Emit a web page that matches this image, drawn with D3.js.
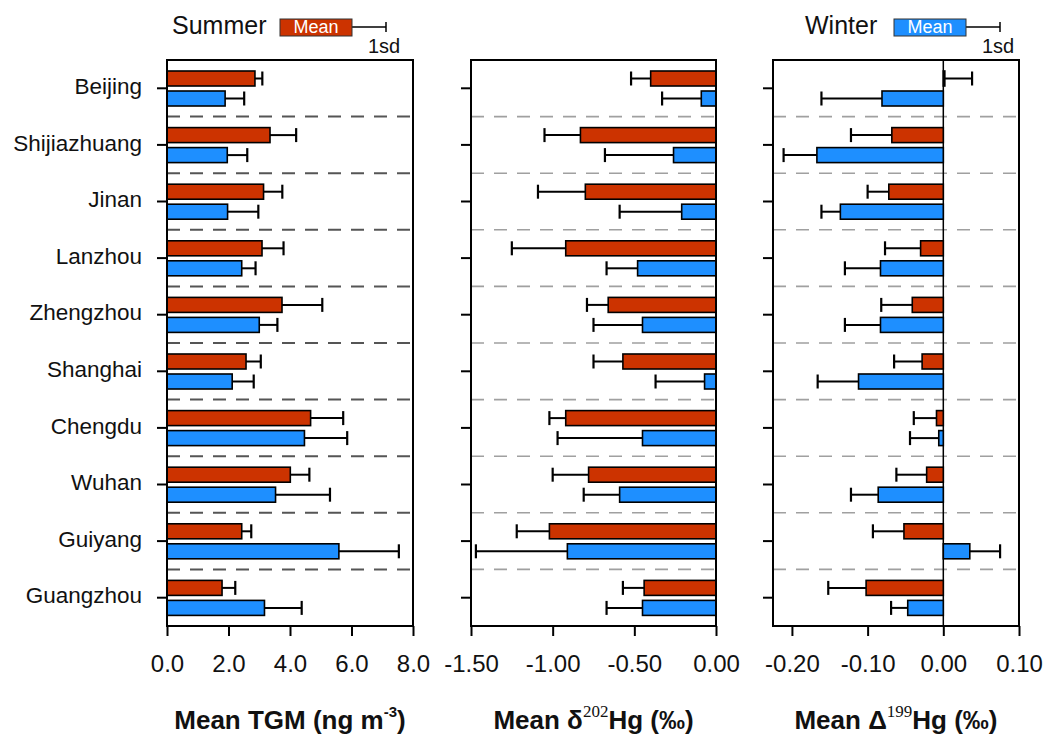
<!doctype html>
<html>
  <head>
    <meta charset="utf-8">
    <title>TGM and Hg isotopes by city</title>
    <script src="https://cdnjs.cloudflare.com/ajax/libs/d3/7.8.5/d3.min.js"></script>
    <style>
      body { margin: 0; background: #fff; }
      svg text { font-family: "Liberation Sans", Arial, sans-serif; }
    </style>
  </head>
  <body>
    <div id="chart"></div>
    <script>
      // categories
      const cities = ["Beijing", "Shijiazhuang", "Jinan", "Lanzhou", "Zhengzhou",
                      "Shanghai", "Chengdu", "Wuhan", "Guiyang", "Guangzhou"];
      const seasons = ["Summer", "Winter"];

      // Mean TGM (ng m-3) and 1sd
      const tgmSummer   = [2.86, 3.35, 3.14, 3.09, 3.74, 2.57, 4.67, 4.01, 2.43, 1.79];
      const tgmSummerSd = [0.24, 0.85, 0.61, 0.70, 1.31, 0.48, 1.06, 0.62, 0.31, 0.43];
      const tgmWinter   = [1.89, 1.96, 1.97, 2.43, 3.00, 2.12, 4.47, 3.53, 5.59, 3.17];
      const tgmWinterSd = [0.62, 0.65, 1.00, 0.45, 0.59, 0.70, 1.39, 1.77, 1.95, 1.21];

      // Mean d202Hg (permil) and 1sd
      const d202Summer   = [-0.40, -0.83, -0.80, -0.92, -0.66, -0.57, -0.92, -0.78, -1.02, -0.44];
      const d202SummerSd = [0.12, 0.22, 0.29, 0.33, 0.13, 0.18, 0.10, 0.22, 0.20, 0.13];
      const d202Winter   = [-0.09, -0.26, -0.21, -0.48, -0.45, -0.07, -0.45, -0.59, -0.91, -0.45];
      const d202WinterSd = [0.24, 0.42, 0.38, 0.19, 0.30, 0.30, 0.52, 0.22, 0.56, 0.22];

      // Mean D199Hg (permil) and 1sd
      const D199Summer   = [0.002, -0.068, -0.072, -0.030, -0.041, -0.028, -0.009, -0.022, -0.052, -0.102];
      const D199SummerSd = [0.036, 0.054, 0.028, 0.047, 0.041, 0.037, 0.030, 0.040, 0.041, 0.050];
      const D199Winter   = [-0.081, -0.167, -0.136, -0.083, -0.083, -0.112, -0.006, -0.086, 0.035, -0.047];
      const D199WinterSd = [0.080, 0.044, 0.025, 0.047, 0.047, 0.054, 0.038, 0.036, 0.040, 0.022];

      // tick labels
      const tgmTicks  = [0, 2, 4, 6, 8];
      const d202Ticks = [-1.5, -1.0, -0.5, 0];
      const D199Ticks = [-0.2, -0.1, 0, 0.1];

      const colors = { Summer: "#cc3300", Winter: "#1e8fff" };

      const width = 1049, height = 740;
      const plotTop = 60, plotBottom = 626;

      const svg = d3.select("#chart").append("svg")
        .attr("width", width)
        .attr("height", height);

      const y = d3.scaleBand().domain(cities).range([plotTop, plotBottom]);
      const ySub = d3.scaleBand().domain(seasons).range([11, 46]).paddingInner(0.25);

      const panels = [
        { left: 167, right: 413, domain: [0, 8], ticks: tgmTicks, fmt: d => d.toFixed(1),
          summer: tgmSummer, summerSd: tgmSummerSd, winter: tgmWinter, winterSd: tgmWinterSd,
          labels: true, dash: "#555", dashW: 2, zeroLine: false,
          title: ["Mean TGM (ng m", "-3", ")"] },
        { left: 471, right: 716, domain: [-1.5, 0], ticks: d202Ticks, fmt: d => d.toFixed(2),
          summer: d202Summer, summerSd: d202SummerSd, winter: d202Winter, winterSd: d202WinterSd,
          labels: false, dash: "#a0a0a0", dashW: 1.6, zeroLine: false,
          title: ["Mean δ", "202", "Hg (‰)"] },
        { left: 773, right: 1019, domain: [-0.225, 0.10], ticks: D199Ticks, fmt: d => d.toFixed(2),
          summer: D199Summer, summerSd: D199SummerSd, winter: D199Winter, winterSd: D199WinterSd,
          labels: false, dash: "#a0a0a0", dashW: 1.6, zeroLine: true,
          title: ["Mean Δ", "199", "Hg (‰)"] }
      ];

      panels.forEach(p => {
        const x = d3.scaleLinear().domain(p.domain).range([p.left, p.right]);
        const g = svg.append("g");

        // dashed separators
        g.selectAll("line.sep")
          .data(cities.slice(1))
          .join("line")
          .attr("class", "sep")
          .attr("x1", p.left).attr("x2", p.right)
          .attr("y1", d => y(d)).attr("y2", d => y(d))
          .attr("stroke", p.dash)
          .attr("stroke-width", p.dashW)
          .attr("stroke-dasharray", "13,10");

        if (p.zeroLine) {
          g.append("line")
            .attr("x1", x(0)).attr("x2", x(0))
            .attr("y1", plotTop).attr("y2", plotBottom)
            .attr("stroke", "#000").attr("stroke-width", 1.5);
        }

        // bars + error bars
        const rows = [];
        cities.forEach((c, i) => {
          rows.push({ city: c, season: "Summer", v: p.summer[i], sd: p.summerSd[i] });
          rows.push({ city: c, season: "Winter", v: p.winter[i], sd: p.winterSd[i] });
        });

        const errEnd = d => d.v >= 0 ? d.v + d.sd : d.v - d.sd;
        const yMid = d => y(d.city) + ySub(d.season) + ySub.bandwidth() / 2;

        g.selectAll("line.err")
          .data(rows)
          .join("line")
          .attr("class", "err")
          .attr("x1", d => x(d.v)).attr("x2", d => x(errEnd(d)))
          .attr("y1", yMid).attr("y2", yMid)
          .attr("stroke", "#000").attr("stroke-width", 2);

        g.selectAll("line.cap")
          .data(rows)
          .join("line")
          .attr("class", "cap")
          .attr("x1", d => x(errEnd(d))).attr("x2", d => x(errEnd(d)))
          .attr("y1", d => yMid(d) - 7).attr("y2", d => yMid(d) + 7)
          .attr("stroke", "#000").attr("stroke-width", 2.2);

        g.selectAll("rect.bar")
          .data(rows)
          .join("rect")
          .attr("class", "bar")
          .attr("x", d => Math.min(x(0), x(d.v)))
          .attr("width", d => Math.abs(x(d.v) - x(0)))
          .attr("y", d => y(d.city) + ySub(d.season))
          .attr("height", ySub.bandwidth())
          .attr("fill", d => colors[d.season])
          .attr("stroke", "#000")
          .attr("stroke-width", 1.6);

        // frame
        g.append("rect")
          .attr("x", p.left).attr("y", plotTop)
          .attr("width", p.right - p.left).attr("height", plotBottom - plotTop)
          .attr("fill", "none").attr("stroke", "#000").attr("stroke-width", 2);

        // x axis
        const xAxis = g.append("g")
          .attr("transform", `translate(0,${plotBottom})`)
          .call(d3.axisBottom(x).tickValues(p.ticks).tickFormat(p.fmt).tickSize(10).tickPadding(19));
        xAxis.select(".domain").remove();
        xAxis.selectAll(".tick line").attr("stroke-width", 2);
        xAxis.selectAll(".tick text")
          .attr("fill", "#111")
          .style("font-size", "24px");

        // y axis (category ticks)
        const yAxis = g.append("g")
          .attr("transform", `translate(${p.left},0)`)
          .call(d3.axisLeft(y).tickSize(10).tickPadding(15).tickFormat(p.labels ? (d => d) : ""));
        yAxis.select(".domain").remove();
        yAxis.selectAll(".tick line").attr("stroke-width", 2);
        yAxis.selectAll(".tick text")
          .attr("fill", "#111")
          .attr("dy", "0.25em")
          .style("font-size", "22.5px");

        // axis title
        const t = svg.append("text")
          .attr("x", (p.left + p.right) / 2)
          .attr("y", 729)
          .attr("text-anchor", "middle")
          .style("font-size", "26px")
          .style("font-weight", "bold")
          .attr("fill", "#111");
        t.append("tspan").text(p.title[0]);
        t.append("tspan")
          .attr("dy", -12)
          .style("font-size", p.labels ? "15px" : "17px")
          .style("font-family", p.labels ? null : "'Liberation Serif', serif")
          .style("font-weight", p.labels ? "bold" : "normal")
          .text(p.title[1]);
        t.append("tspan").attr("dy", 12).text(p.title[2]);
      });

      // legends
      const legends = [
        { season: "Summer", tx: 172, bx: 280 },
        { season: "Winter", tx: 805, bx: 894 }
      ];
      legends.forEach(l => {
        const g = svg.append("g");
        g.append("text")
          .attr("x", l.tx).attr("y", 34)
          .style("font-size", "25px")
          .attr("fill", "#111")
          .text(l.season);
        g.append("line")
          .attr("x1", l.bx + 72).attr("x2", l.bx + 106)
          .attr("y1", 27).attr("y2", 27)
          .attr("stroke", "#000").attr("stroke-width", 1.5);
        g.append("line")
          .attr("x1", l.bx + 106).attr("x2", l.bx + 106)
          .attr("y1", 22).attr("y2", 32)
          .attr("stroke", "#000").attr("stroke-width", 1.5);
        g.append("rect")
          .attr("x", l.bx).attr("y", 19)
          .attr("width", 72).attr("height", 17)
          .attr("fill", colors[l.season])
          .attr("stroke", "#333").attr("stroke-width", 1);
        g.append("text")
          .attr("x", l.bx + 36).attr("y", 33)
          .attr("text-anchor", "middle")
          .style("font-size", "18px")
          .attr("fill", "#fff")
          .text("Mean");
        g.append("text")
          .attr("x", l.bx + 104).attr("y", 53)
          .attr("text-anchor", "middle")
          .style("font-size", "20px")
          .attr("fill", "#111")
          .text("1sd");
      });
    </script>
  </body>
</html>
